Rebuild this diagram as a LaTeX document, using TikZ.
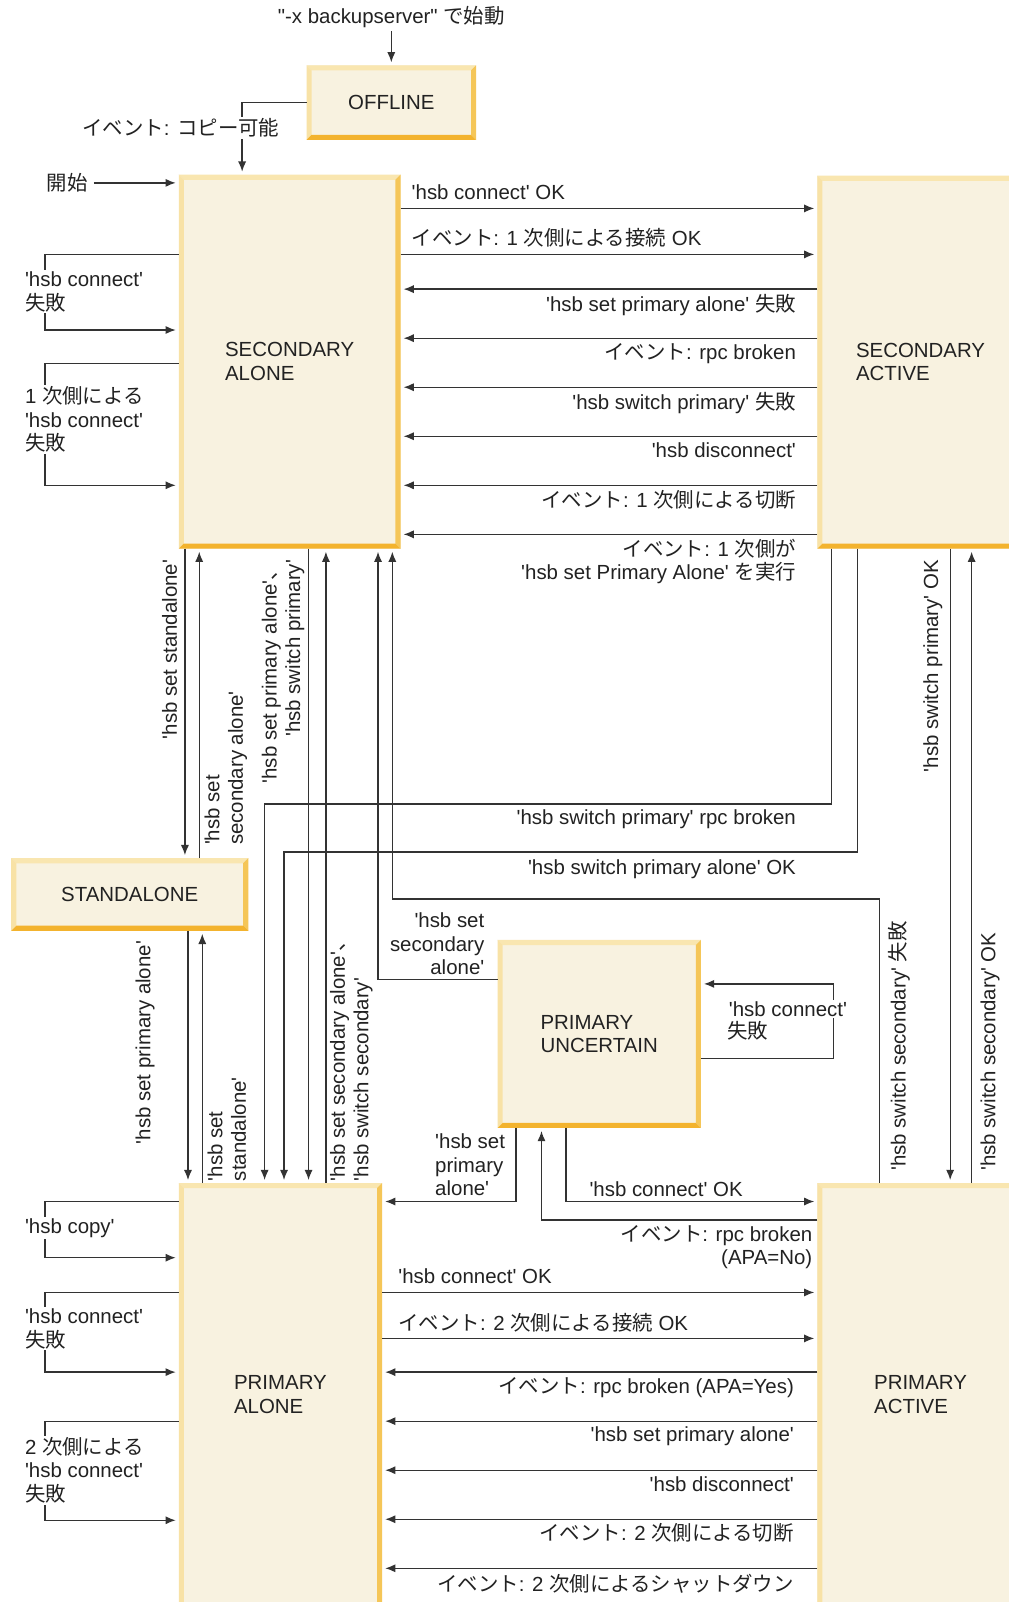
\documentclass[tikz,border=0pt]{standalone}
\usepackage{fontspec}
\newfontfamily\lsans{Liberation Sans}
\newfontfamily\jpfont{Noto Sans CJK JP}
\newcommand\jpn[1]{{\jpfont #1}}
\usetikzlibrary{arrows.meta,calc}
\definecolor{boxfill}{HTML}{F8F2E0}
\definecolor{bvtop}{HTML}{F9E6B0}
\definecolor{bvleft}{HTML}{F8E2A6}
\definecolor{bvright}{HTML}{F5C658}
\definecolor{bvbot}{HTML}{F3B32E}
\definecolor{lncol}{HTML}{333333}
\definecolor{txt}{HTML}{222222}
\newcommand\bevelbox[1]{%
  \fill[bvtop] (#1.north west) -- (#1.north east) -- ($(#1.north east)+(-5,5)$) -- ($(#1.north west)+(5,5)$) -- cycle;
  \fill[bvleft] (#1.north west) -- ($(#1.north west)+(5,5)$) -- ($(#1.south west)+(5,-5)$) -- (#1.south west) -- cycle;
  \fill[bvright] (#1.north east) -- (#1.south east) -- ($(#1.south east)+(-5,-5)$) -- ($(#1.north east)+(-5,5)$) -- cycle;
  \fill[bvbot] (#1.south west) -- (#1.south east) -- ($(#1.south east)+(-5,-5)$) -- ($(#1.south west)+(5,-5)$) -- cycle;}
\newcommand\bevelboxnb[1]{%
  \fill[bvtop] (#1.north west) -- (#1.north east) -- ($(#1.north east)+(-5,5)$) -- ($(#1.north west)+(5,5)$) -- cycle;
  \fill[bvleft] (#1.north west) -- ($(#1.north west)+(5,5)$) -- ($(#1.south west)+(5,0)$) -- (#1.south west) -- cycle;
  \fill[bvright] (#1.north east) -- (#1.south east) -- ($(#1.south east)+(-5,0)$) -- ($(#1.north east)+(-5,5)$) -- cycle;}
\begin{document}
\begin{tikzpicture}[x=1pt,y=-1pt,
  font=\lsans\fontsize{20}{23}\selectfont,
  stbox/.style={fill=boxfill, inner sep=0pt, outer sep=0pt, align=left, text=txt},
  lbl/.style={inner sep=0pt, outer sep=0pt, text=txt},
  lblw/.style={lbl, fill=white, inner sep=1.5pt},
  ln/.style={draw=lncol, line width=1.3pt},
  arr/.style={ln, -{Latex[length=10pt,width=8pt]}, shorten >=3pt}]
\useasboundingbox (0,0) rectangle (987,1568);
\fill[white] (0,0) rectangle (987,1568);

% ---------- boxes ----------
\node[stbox, minimum width=166pt, minimum height=73pt] (off) at (383,100.5) {OFFLINE};
\bevelbox{off}
\node[stbox, minimum width=217pt, minimum height=366pt] (sa) at (283.5,354) {SECONDARY\\ALONE};
\bevelbox{sa}
\node[stbox, minimum width=202pt, minimum height=365pt] (sact) at (901,354.5) {SECONDARY\\ACTIVE};
\bevelbox{sact}
\node[stbox, minimum width=232pt, minimum height=71pt] (std) at (127,875.5) {STANDALONE};
\bevelbox{std}
\node[stbox, minimum width=199pt, minimum height=184pt] (pu) at (586.5,1012) {PRIMARY\\UNCERTAIN};
\bevelbox{pu}
\node[stbox, minimum width=199pt, minimum height=414pt] (pa) at (274.5,1365) {PRIMARY\\ALONE};
\bevelboxnb{pa}
\node[stbox, minimum width=202pt, minimum height=414pt] (pact) at (901,1365) {PRIMARY\\ACTIVE};
\bevelboxnb{pact}

% ---------- start labels ----------
\node[lbl] (start) at (383,17) {"-x backupserver" \jpn{で始動}};
\node[lbl] (kaishi) at (66,179) {\jpn{開始}};

% ---------- connectors ----------
\draw[arr, shorten <=3pt] (start) -- (off);
\draw[arr] (off.west) -| (sa.north -| 237,0);
\draw[arr, shorten <=6pt] (kaishi) -- (kaishi -| sa.west);

% SA <-> SACT
\draw[arr] (sa.east |- 0,204) -- (sact.west |- 0,204);
\draw[arr] (sa.east |- 0,249) -- (sact.west |- 0,249);
\foreach \yy in {283,331,379,427,475,523}
  \draw[arr] (sact.west |- 0,\yy) -- (sa.east |- 0,\yy);

% SA self loops
\draw[arr] (sa.west |- 0,249) -| (44,285) |- (sa.west |- 0,323);
\draw[arr] (sa.west |- 0,356) -| (44,410) |- (sa.west |- 0,475);

% verticals
\draw[arr] (sa.south -| 181,0) -- (std.north -| 181,0);
\draw[arr] (std.north -| 195,0) -- (sa.south -| 195,0);
\draw[arr] (sa.south -| 302,0) -- (pa.north -| 302,0);
\draw[arr] (pa.north -| 319,0) -- (sa.south -| 319,0);
\draw[arr] (pu.west |- 0,959) -| (sa.south -| 370,0);
\draw[arr] (pact.north -| 861,0) |- (384,880) -- (sa.south -| 384,0);
\draw[arr] (sact.south -| 814,0) |- (259,787) -- (pa.north -| 259,0);
\draw[arr] (sact.south -| 839,0) |- (278,834) -- (pa.north -| 278,0);
\draw[arr] (sact.south -| 930,0) -- (pact.north -| 930,0);
\draw[arr] (pact.north -| 951,0) -- (sact.south -| 951,0);
\draw[arr] (std.south -| 184,0) -- (pa.north -| 184,0);
\draw[arr] (pa.north -| 198,0) -- (std.south -| 198,0);

% PU
\draw[arr] (pu.east |- 0,1036) -| (816,1000) |- (pu.east |- 0,963);
\draw[arr] (pu.south -| 505,0) |- (pa.east |- 0,1176);
\draw[arr] (pu.south -| 554,0) |- (pact.west |- 0,1176);
\draw[arr] (pact.west |- 0,1194) -| (pu.south -| 530,0);

% PA <-> PACT
\draw[arr] (pa.east |- 0,1265) -- (pact.west |- 0,1265);
\draw[arr] (pa.east |- 0,1310) -- (pact.west |- 0,1310);
\foreach \yy in {1343,1391,1439,1487,1535}
  \draw[arr] (pact.west |- 0,\yy) -- (pa.east |- 0,\yy);

% PA self loops
\draw[arr] (pa.west |- 0,1176) -| (44,1200) |- (pa.west |- 0,1231);
\draw[arr] (pa.west |- 0,1265) -| (44,1300) |- (pa.west |- 0,1343);
\draw[arr] (pa.west |- 0,1391) -| (44,1439) |- (pa.west |- 0,1488);

% ---------- labels ----------
\node[lblw] (lcopy) at (177,125) {\jpn{イベント}: \jpn{コピー可能}};

\node[lbl, anchor=west] (l1) at (403,188) {'hsb connect' OK};
\node[lbl, anchor=west] (l2) at (403,233) {\jpn{イベント}: 1 \jpn{次側による接続} OK};
\node[lbl, anchor=east] (l3) at (779,299) {'hsb set primary alone' \jpn{失敗}};
\node[lbl, anchor=east] (l4) at (779,346) {\jpn{イベント}: rpc broken};
\node[lbl, anchor=east] (l5) at (779,394) {'hsb switch primary' \jpn{失敗}};
\node[lbl, anchor=east] (l6) at (779,441) {'hsb disconnect'};
\node[lbl, anchor=east] (l7) at (779,489) {\jpn{イベント}: 1 \jpn{次側による切断}};
\node[lbl, anchor=east, align=right] (l8) at (779,549.5) {\jpn{イベント}: 1 \jpn{次側が}\\'hsb set Primary Alone' \jpn{を実行}};

\node[lblw, anchor=west, align=left] (sl1) at (23,285.5) {'hsb connect'\\\jpn{失敗}};
\node[lblw, anchor=west, align=left] (sl2) at (23,410.5) {1 \jpn{次側による}\\'hsb connect'\\\jpn{失敗}};

\node[lbl, rotate=90, anchor=east] (v1) at (166,548) {'hsb set standalone'};
\node[lbl, rotate=90, anchor=west, align=left] (v2) at (221,827) {'hsb set\\secondary alone'};
\node[lbl, rotate=90, anchor=east, align=right] (v3) at (277,548) {'hsb set primary alone'\jpn{、}\\'hsb switch primary'};
\node[lbl, rotate=90, anchor=west, align=left] (v4) at (344,1156) {'hsb set secondary alone'\jpn{、}\\'hsb switch secondary'};
\node[lbl, rotate=90, anchor=east] (v5) at (913,548) {'hsb switch primary' OK};
\node[lbl, rotate=90, anchor=west] (v6) at (880,1146) {'hsb switch secondary' \jpn{失敗}};
\node[lbl, rotate=90, anchor=west] (v7) at (969,1146) {'hsb switch secondary' OK};
\node[lbl, rotate=90, anchor=east] (v8) at (142,921) {'hsb set primary alone'};
\node[lbl, rotate=90, anchor=west, align=left] (v9) at (222,1156) {'hsb set\\standalone'};

\node[lbl, anchor=east] (m1) at (779,802) {'hsb switch primary' rpc broken};
\node[lbl, anchor=east] (m2) at (779,851) {'hsb switch primary alone' OK};
\node[lbl, anchor=east, align=right] (m3) at (474,924) {'hsb set\\secondary\\alone'};
\node[lblw, anchor=west] (m4) at (712,988) {'hsb connect'};
\node[lbl, anchor=west] (m5) at (712,1009) {\jpn{失敗}};
\node[lbl, anchor=west, align=left] (m6) at (426,1140) {'hsb set\\primary\\alone'};
\node[lbl, anchor=west] (m7) at (577,1164) {'hsb connect' OK};
\node[lbl, anchor=east, align=right] (m8) at (795,1220.5) {\jpn{イベント}: rpc broken\\(APA=No)};

\node[lbl, anchor=west] (b1) at (390,1249) {'hsb connect' OK};
\node[lbl, anchor=west] (b2) at (390,1295) {\jpn{イベント}: 2 \jpn{次側による接続} OK};
\node[lbl, anchor=east] (b3) at (777,1358) {\jpn{イベント}: rpc broken (APA=Yes)};
\node[lbl, anchor=east] (b4) at (777,1406) {'hsb set primary alone'};
\node[lbl, anchor=east] (b5) at (777,1453) {'hsb disconnect'};
\node[lbl, anchor=east] (b6) at (777,1500) {\jpn{イベント}: 2 \jpn{次側による切断}};
\node[lbl, anchor=east] (b7) at (777,1550) {\jpn{イベント}: 2 \jpn{次側によるシャットダウン}};

\node[lblw, anchor=west] (pl1) at (23,1202) {'hsb copy'};
\node[lblw, anchor=west, align=left] (pl2) at (23,1300.5) {'hsb connect'\\\jpn{失敗}};
\node[lblw, anchor=west, align=left] (pl3) at (23,1439) {2 \jpn{次側による}\\'hsb connect'\\\jpn{失敗}};
\end{tikzpicture}
\end{document}
